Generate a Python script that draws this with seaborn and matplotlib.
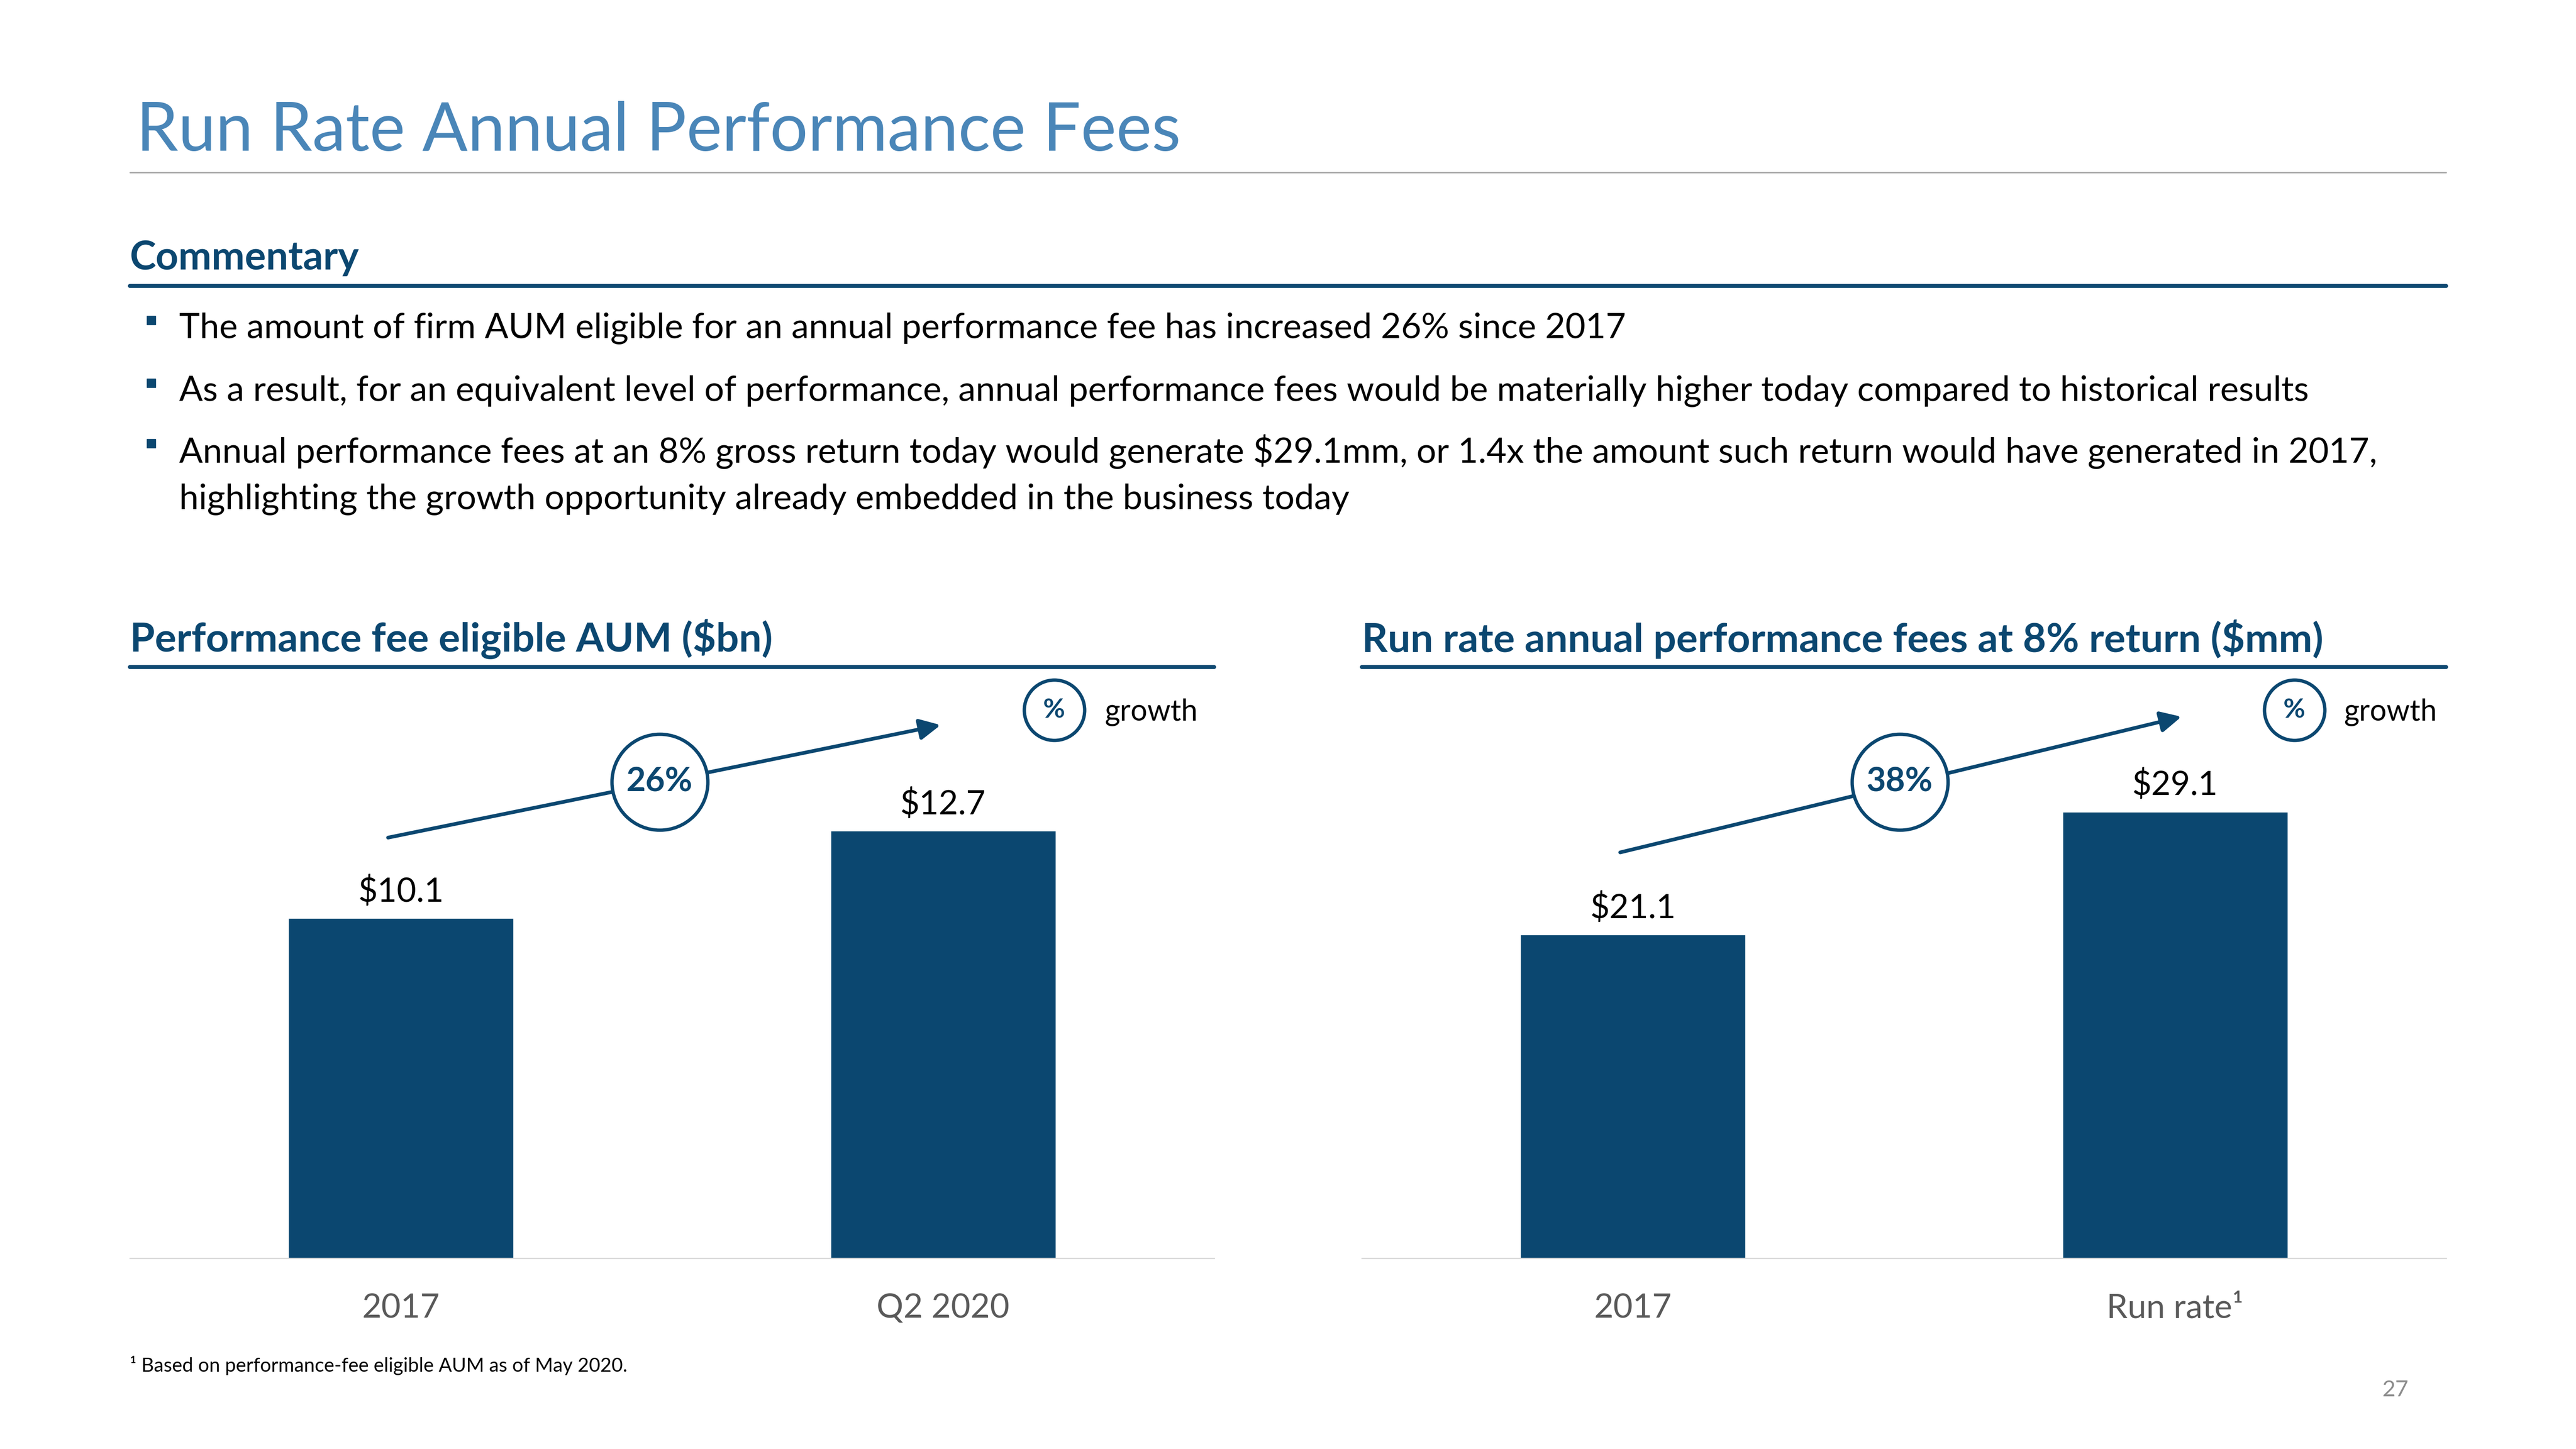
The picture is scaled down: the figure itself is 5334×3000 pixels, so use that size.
import matplotlib
matplotlib.use('Agg')
import matplotlib.pyplot as plt
from matplotlib.lines import Line2D
import seaborn as sns
import pandas as pd

# data
aum_labels = ['2017', 'Q2 2020']
aum_values = [10.1, 12.7]
aum_growth = '26%'
fee_labels = ['2017', 'Run rate\u00b9']
fee_values = [21.1, 29.1]
fee_growth = '38%'

title = 'Run Rate Annual Performance Fees'
bullets = [
    ['The amount of firm AUM eligible for an annual performance fee has increased 26% since 2017'],
    ['As a result, for an equivalent level of performance, annual performance fees would be materially higher today compared to historical results'],
    ['Annual performance fees at an 8% gross return today would generate $29.1mm, or 1.4x the amount such return would have generated in 2017,',
     'highlighting the growth opportunity already embedded in the business today'],
]
footnote = '\u00b9 Based on performance-fee eligible AUM as of May 2020.'

NAVY = '#0B4770'
TITLE_BLUE = '#4A86B8'

sns.set_style('white')
plt.rcParams['font.family'] = ['Lato', 'DejaVu Sans']

fig = plt.figure(figsize=(53.34, 30), dpi=100)

# layout measured on a 1568 x 882 view of the slide
W, H = 1568, 882
def fx(x):
    return x / W
def fy(y):
    return 1 - y / H

# header
fig.text(fx(83), fy(80), title, fontsize=100, color=TITLE_BLUE, va='center', ha='left')
fig.add_artist(Line2D([fx(79), fx(1489)], [fy(105), fy(105)], color='#A6A6A6', lw=2))
fig.text(fx(79), fy(157), 'Commentary', fontsize=59, fontweight='bold', color=NAVY, va='center')
fig.add_artist(Line2D([fx(79), fx(1489)], [fy(174), fy(174)], color=NAVY, lw=6))

bullet_y = [200, 238, 275]
for lines, by in zip(bullets, bullet_y):
    fig.add_artist(Line2D([fx(92)], [fy(by - 5)], marker='s', markersize=13, color=NAVY, lw=0))
    for i, line in enumerate(lines):
        fig.text(fx(109), fy(by + 29 * i), line, fontsize=52, color='black', va='center')

fig.text(fx(79), fy(831), footnote, fontsize=29, color='black', va='center')
fig.text(fx(1458), fy(846), '27', fontsize=34, color='#8C8C8C', va='center', ha='center')


def draw_panel(left, subtitle, labels, values, growth, ytop, arrow, circ, legend):
    fig.text(fx(left), fy(389), subtitle, fontsize=60, fontweight='bold', color=NAVY, va='center')
    fig.add_artist(Line2D([fx(left), fx(left + 660)], [fy(406), fy(406)], color=NAVY, lw=6))
    ax = fig.add_axes([fx(left), fy(766), 660 / W, (766 - 410) / H])
    df = pd.DataFrame({'label': labels, 'value': values})
    sns.barplot(data=df, x='label', y='value', color=NAVY, width=0.415, saturation=1, ax=ax)
    ax.set_xlim(-0.5, 1.5)
    ax.set_ylim(0, ytop)
    ax.set_xlabel('')
    ax.set_ylabel('')
    ax.set_yticks([])
    sns.despine(ax=ax, left=True, top=True, right=True)
    ax.spines['bottom'].set_color('#D9D9D9')
    ax.spines['bottom'].set_linewidth(2)
    ax.tick_params(axis='x', length=0, pad=52, labelsize=50, labelcolor='#595959')
    ax.bar_label(ax.containers[0], labels=[f'${v:.1f}' for v in values], padding=16,
                 fontsize=50, color='black')
    # growth arrow
    (x0, y0), (x1, y1) = arrow
    ax.annotate('', xy=(x1, y1), xytext=(x0, y0),
                arrowprops=dict(arrowstyle='-|>', lw=5.5, color=NAVY, mutation_scale=65),
                annotation_clip=False, zorder=3)
    ax.scatter([circ[0]], [circ[1]], s=143 ** 2, facecolor='white', edgecolor=NAVY,
               linewidth=5, zorder=4, clip_on=False)
    ax.text(circ[0], circ[1], growth, fontsize=50, fontweight='bold', color=NAVY,
            ha='center', va='center', zorder=5)
    # legend
    ax.scatter([legend[0]], [legend[1]], s=90 ** 2, facecolor='white', edgecolor=NAVY,
               linewidth=5, zorder=4, clip_on=False)
    ax.text(legend[0], legend[1], '%', fontsize=40, fontweight='bold', color=NAVY,
            ha='center', va='center', zorder=5)
    ax.text(legend[2], legend[1] - ytop * 0.004, 'growth', fontsize=44, color='black',
            ha='left', va='center')
    return ax


draw_panel(79, 'Performance fee eligible AUM ($bn)', aum_labels, aum_values, aum_growth, 17.37,
           ((-0.026, 12.49), (0.998, 15.85)), (0.477, 14.15), (1.205, 16.29, 1.298))
draw_panel(829, 'Run rate annual performance fees at 8% return ($mm)', fee_labels, fee_values,
           fee_growth, 38.1, ((-0.026, 26.43), (1.014, 35.31)), (0.492, 31.03), (1.22, 35.74, 1.311))

fig.savefig('out.png', dpi=100, facecolor='white')
